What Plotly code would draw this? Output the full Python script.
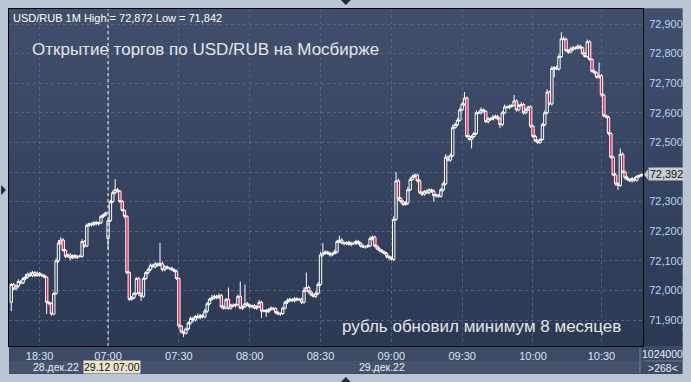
import plotly.graph_objects as go

# ---------------- data ----------------
closes = [
    72.020, 72.005, 72.015, 72.030, 72.025, 72.040, 72.045, 72.055, 72.050, 72.060,
    72.050, 72.058, 72.052, 72.050, 72.045, 71.960, 71.955, 71.920, 71.990, 72.100,
    72.160, 72.170, 72.135, 72.115, 72.120, 72.110, 72.118, 72.112, 72.115, 72.115,
    72.165, 72.150, 72.220, 72.225, 72.222, 72.230, 72.225, 72.228, 72.250, 72.255,
    72.262, 72.235, 72.300, 72.330, 72.340, 72.335, 72.300, 72.270, 72.250, 72.060,
    71.970, 71.975, 71.990, 72.040, 71.990, 71.980, 72.040, 72.060, 72.070, 72.085,
    72.080, 72.090, 72.085, 72.090, 72.070, 72.080, 72.075, 72.075, 72.070, 72.065,
    72.040, 71.880, 71.860, 71.855, 71.870, 71.890, 71.905, 71.900, 71.912, 71.908,
    71.915, 71.910, 71.930, 71.955, 71.970, 71.975, 71.980, 71.975, 71.982, 71.945,
    71.940, 71.970, 71.940, 71.950, 71.948, 71.952, 71.980, 71.940, 71.945, 71.955,
    71.950, 71.945, 71.948, 71.940, 71.945, 71.960, 71.930, 71.932, 71.928, 71.935,
    71.940, 71.938, 71.925, 71.920, 71.922, 71.940, 71.960, 71.965, 71.970, 71.965,
    71.972, 71.968, 71.970, 71.960, 72.000, 72.010, 71.995, 71.985, 71.980, 71.990,
    72.020, 72.120, 72.125, 72.130, 72.125, 72.120, 72.125, 72.130, 72.165, 72.170,
    72.160, 72.158, 72.162, 72.155, 72.160, 72.158, 72.165, 72.160, 72.150, 72.147,
    72.148, 72.150, 72.175, 72.180, 72.150, 72.140, 72.135, 72.130, 72.125, 72.115,
    72.110, 72.105, 72.240, 72.370, 72.310, 72.300, 72.290, 72.295, 72.340, 72.375,
    72.385, 72.390, 72.370, 72.330, 72.325, 72.335, 72.330, 72.340, 72.335, 72.320,
    72.322, 72.318, 72.340, 72.360, 72.450, 72.440, 72.455, 72.550, 72.560, 72.575,
    72.610, 72.630, 72.650, 72.520, 72.510, 72.520, 72.530, 72.600, 72.600, 72.610,
    72.605, 72.570, 72.580, 72.578, 72.585, 72.588, 72.580, 72.560, 72.600, 72.620,
    72.618, 72.622, 72.625, 72.640, 72.610, 72.625, 72.628, 72.600, 72.610, 72.620,
    72.555, 72.520, 72.505, 72.500, 72.510, 72.560, 72.600, 72.670, 72.630, 72.750,
    72.752, 72.748, 72.790, 72.850, 72.848, 72.810, 72.805, 72.815, 72.820, 72.818,
    72.825, 72.820, 72.800, 72.790, 72.840, 72.780, 72.740, 72.735, 72.720, 72.725,
    72.660, 72.590, 72.585, 72.530, 72.450, 72.390, 72.360, 72.355, 72.460, 72.400,
    72.380, 72.375, 72.370, 72.378, 72.372, 72.385, 72.388, 72.392,
]
# bars whose open is not the previous close (session start / gap)
open_gaps = {0: 71.960, 41: 72.175}
# wick lengths above / below the body, in thousandths of a rouble
up_wick = [
    5, 6, 4, 8, 5, 6, 10, 5, 8, 6,
    5, 6, 4, 6, 5, 3, 4, 5, 4, 8,
    10, 10, 6, 5, 4, 6, 3, 5, 4, 6,
    8, 5, 6, 4, 5, 3, 5, 4, 6, 5,
    4, 5, 6, 8, 36, 6, 4, 5, 3, 4,
    5, 6, 4, 5, 6, 3, 6, 5, 8, 6,
    5, 6, 4, 70, 8, 5, 4, 3, 5, 4,
    5, 4, 3, 4, 5, 6, 8, 6, 5, 10,
    6, 5, 8, 6, 5, 10, 6, 5, 8, 6,
    5, 4, 40, 5, 6, 4, 6, 50, 5, 65,
    6, 5, 4, 6, 5, 8, 5, 4, 6, 5,
    6, 4, 5, 6, 4, 5, 6, 8, 5, 4,
    6, 5, 4, 5, 10, 50, 6, 5, 4, 6,
    8, 10, 35, 5, 4, 6, 5, 8, 6, 15,
    6, 5, 4, 6, 5, 4, 6, 5, 4, 6,
    5, 6, 8, 6, 5, 4, 6, 5, 4, 5,
    4, 5, 10, 30, 8, 6, 5, 6, 10, 8,
    6, 5, 4, 6, 5, 4, 6, 5, 4, 6,
    5, 4, 6, 8, 10, 6, 8, 10, 6, 8,
    8, 6, 20, 5, 6, 5, 6, 8, 6, 8,
    5, 4, 6, 5, 8, 6, 5, 4, 6, 8,
    5, 6, 4, 20, 5, 6, 8, 5, 6, 4,
    5, 4, 6, 5, 4, 6, 8, 10, 5, 8,
    6, 8, 10, 22, 8, 6, 5, 8, 6, 5,
    6, 5, 4, 6, 8, 5, 4, 6, 5, 45,
    6, 5, 4, 5, 4, 5, 6, 5, 20, 6,
    5, 6, 4, 5, 6, 5, 4, 3,
]
down_wick = [
    30, 5, 4, 6, 5, 4, 6, 5, 4, 6,
    5, 4, 6, 5, 4, 40, 5, 6, 4, 5,
    6, 5, 4, 6, 5, 8, 4, 5, 6, 4,
    5, 6, 4, 5, 6, 4, 5, 6, 4, 5,
    5, 35, 4, 5, 6, 4, 5, 4, 6, 5,
    6, 4, 5, 6, 8, 15, 5, 4, 6, 5,
    4, 6, 5, 4, 6, 5, 4, 6, 5, 4,
    5, 6, 5, 13, 4, 5, 6, 8, 5, 4,
    6, 5, 4, 6, 5, 4, 6, 5, 4, 6,
    5, 4, 6, 5, 4, 6, 5, 4, 6, 5,
    4, 6, 5, 4, 6, 5, 23, 4, 18, 5,
    4, 6, 5, 4, 6, 5, 4, 6, 5, 4,
    6, 5, 4, 6, 5, 4, 6, 5, 4, 6,
    5, 4, 6, 5, 4, 6, 5, 4, 6, 5,
    4, 6, 5, 4, 6, 5, 4, 6, 5, 4,
    6, 5, 4, 6, 5, 4, 6, 5, 4, 6,
    5, 4, 6, 5, 8, 6, 5, 4, 6, 5,
    4, 6, 5, 4, 6, 5, 4, 6, 5, 20,
    6, 5, 4, 6, 5, 4, 6, 5, 4, 6,
    5, 4, 6, 5, 4, 30, 6, 5, 4, 6,
    5, 4, 6, 5, 4, 6, 5, 12, 6, 5,
    4, 6, 5, 4, 6, 5, 4, 6, 5, 4,
    6, 5, 4, 6, 5, 4, 6, 5, 4, 6,
    30, 4, 6, 5, 4, 6, 5, 4, 6, 5,
    4, 6, 5, 4, 6, 5, 4, 6, 5, 4,
    6, 5, 4, 6, 5, 4, 6, 15, 5, 4,
    6, 5, 4, 6, 5, 4, 6, 5,
]

time_ticks = [12, 41, 71, 101, 131, 161, 191, 221, 250]
time_labels = ["18:30", "07:00", "07:30", "08:00", "08:30", "09:00", "09:30", "10:00", "10:30"]
price_ticks = [71.9, 72.0, 72.1, 72.2, 72.3, 72.4, 72.5, 72.6, 72.7, 72.8, 72.9]
# 72,400 is hidden behind the last-price box in the original
price_labels = ["71,900", "72,000", "72,100", "72,200", "72,300", "",
                "72,500", "72,600", "72,700", "72,800", "72,900"]
title_small = "USD/RUB 1M High = 72,872 Low = 71,842"
headline = "Открытие торгов по USD/RUB на Мосбирже"
caption = "рубль обновил минимум 8 месяцев"
date_labels = ["28.дек.22", "29.дек.22"]
cursor_label = "29.12 07:00"
volume_label = "1024000"
bars_label = ">268<"
last_label = "72,392"

# ---------------- build OHLC ----------------
opens, highs, lows = [], [], []
for i, c in enumerate(closes):
    o = open_gaps.get(i, closes[i - 1] if i > 0 else c)
    opens.append(o)
    highs.append(max(o, c) + up_wick[i] / 1000)
    lows.append(min(o, c) - down_wick[i] / 1000)
bars = list(range(len(closes)))
cursor_bar = time_ticks[1]

# ---------------- geometry helpers (pixels -> paper) ----------------
W, H = 691, 382
L, R, T, B = 8, 648, 9, 346


def px(xp):
    return (xp - L) / (R - L)


def py(yp):
    return (B - yp) / (B - T)


FONT = "Liberation Sans, Arial, sans-serif"
FRAME = "#bac6d4"
GRID = "#56637f"

fig = go.Figure()
fig.add_trace(go.Candlestick(
    x=bars, open=opens, high=highs, low=lows, close=closes,
    increasing=dict(line=dict(color="#ffffff", width=1), fillcolor="#36435f"),
    decreasing=dict(line=dict(color="#ffffff", width=1), fillcolor="#e5163c"),
    whiskerwidth=0, hoverinfo="skip", showlegend=False,
))

shapes = []
# gradient background of the plot + right price panel
top_rgb = (0x41, 0x4f, 0x6d)
bot_rgb = (0x2c, 0x39, 0x54)
n = 30
for k in range(n):
    f = (k + 0.5) / n
    col = tuple(round(top_rgb[j] + (bot_rgb[j] - top_rgb[j]) * f) for j in range(3))
    y1 = 1 - k / n
    y0 = 1 - (k + 1) / n
    shapes.append(dict(type="rect", xref="paper", yref="paper", x0=0, x1=px(688),
                       y0=y0 - 0.002, y1=y1 + 0.002, fillcolor="rgb(%d,%d,%d)" % col,
                       line=dict(width=0), layer="below"))
# bottom time panel
shapes.append(dict(type="rect", xref="paper", yref="paper", x0=0, x1=px(688),
                   y0=py(374), y1=0, fillcolor="#3d4a66", line=dict(width=0), layer="below"))
shapes.append(dict(type="rect", xref="paper", yref="paper", x0=0, x1=px(645),
                   y0=py(373), y1=py(361), fillcolor="#47536d", line=dict(width=0), layer="below"))
shapes.append(dict(type="line", xref="paper", yref="paper", x0=px(645), x1=px(645),
                   y0=py(373), y1=py(348), line=dict(color="#7d889c", width=1)))
shapes.append(dict(type="line", xref="paper", yref="paper", x0=px(649), x1=px(688),
                   y0=py(361), y1=py(361), line=dict(color="#6d7890", width=1)))
# cursor line at 07:00
shapes.append(dict(type="line", xref="x", yref="paper", x0=cursor_bar, x1=cursor_bar,
                   y0=0, y1=1, line=dict(color="#ffffff", width=1, dash="dot")))
# frame arrows
shapes.append(dict(type="path", xref="paper", yref="paper",
                   path="M %f %f L %f %f L %f %f Z" % (px(343), py(0), px(353), py(0), px(348), py(5)),
                   fillcolor="#222a38", line=dict(width=0)))
shapes.append(dict(type="path", xref="paper", yref="paper",
                   path="M %f %f L %f %f L %f %f Z" % (px(343), py(382), px(353), py(382), px(348), py(377)),
                   fillcolor="#222a38", line=dict(width=0)))
shapes.append(dict(type="path", xref="paper", yref="paper",
                   path="M %f %f L %f %f L %f %f Z" % (px(0), py(185), px(0), py(195), px(5), py(190)),
                   fillcolor="#222a38", line=dict(width=0)))
# last price pointer
shapes.append(dict(type="path", xref="paper", yref="y",
                   path="M %f %f L %f %f L %f %f Z" % (px(649), closes[-1], px(653), closes[-1] + 0.017,
                                                      px(653), closes[-1] - 0.017),
                   fillcolor="#c9cdd3", line=dict(width=0)))

annotations = [
    dict(text=title_small, xref="paper", yref="paper", x=px(10), y=py(18), xanchor="left",
         yanchor="middle", showarrow=False, font=dict(family=FONT, size=11, color="#ffffff")),
    dict(text=headline, xref="paper", yref="paper", x=px(29), y=py(49), xanchor="left",
         yanchor="middle", showarrow=False, font=dict(family=FONT, size=17, color="#e4e6ea")),
    dict(text=caption, xref="paper", yref="paper", x=px(342), y=py(326), xanchor="left",
         yanchor="middle", showarrow=False, font=dict(family=FONT, size=17, color="#e4e6ea")),
    dict(text=date_labels[0], xref="paper", yref="paper", x=px(81), y=py(367), xanchor="right",
         yanchor="middle", showarrow=False, font=dict(family=FONT, size=10.5, color="#e8eef8")),
    dict(text=date_labels[1], xref="paper", yref="paper", x=px(359), y=py(367), xanchor="left",
         yanchor="middle", showarrow=False, font=dict(family=FONT, size=10.5, color="#e8eef8")),
    dict(text=cursor_label, xref="paper", yref="paper", x=px(83), y=py(367), xanchor="left",
         yanchor="middle", showarrow=False, bgcolor="#e9e6cc", borderpad=0,
         font=dict(family=FONT, size=10.5, color="#111111")),
    dict(text=volume_label, xref="paper", yref="paper", x=px(668), y=py(354), xanchor="center",
         yanchor="middle", showarrow=False, font=dict(family=FONT, size=10.5, color="#e8eef8")),
    dict(text=bars_label, xref="paper", yref="paper", x=px(668), y=py(368), xanchor="center",
         yanchor="middle", showarrow=False, font=dict(family=FONT, size=10.5, color="#e8eef8")),
    dict(text=last_label, xref="paper", yref="y", x=px(653), y=closes[-1], xanchor="left",
         yanchor="middle", showarrow=False, bgcolor="#c9cdd3", borderpad=0, width=35,
         font=dict(family=FONT, size=11, color="#111111")),
]

fig.update_layout(
    width=W, height=H, autosize=False,
    margin=dict(l=L, r=W - R, t=T, b=H - B, pad=0),
    paper_bgcolor=FRAME, plot_bgcolor="rgba(0,0,0,0)",
    boxgap=0, boxgroupgap=0,
    shapes=shapes, annotations=annotations, showlegend=False,
    xaxis=dict(range=[-0.96, 267.6], tickmode="array", tickvals=time_ticks, ticktext=time_labels,
               showgrid=True, gridcolor=GRID, gridwidth=1, griddash="3px,3px", zeroline=False,
               showline=True, linecolor="#000000", linewidth=1, mirror=True, ticks="",
               tickfont=dict(family=FONT, size=11, color="#d8e4f6"), rangeslider=dict(visible=False),
               fixedrange=True),
    yaxis=dict(range=[71.8122, 72.9507], side="right", tickmode="array", tickvals=price_ticks,
               ticktext=price_labels, showgrid=True, gridcolor=GRID, gridwidth=1, griddash="3px,3px",
               zeroline=False, showline=True, linecolor="#000000", linewidth=1, mirror=True,
               ticks="outside", ticklen=3, tickcolor="rgba(0,0,0,0)",
               tickfont=dict(family=FONT, size=11, color="#b9d4f4"), fixedrange=True),
)

fig.write_html("out.html", config={"displayModeBar": False},
               post_script="document.body.style.margin='0';document.body.style.overflow='hidden';")
